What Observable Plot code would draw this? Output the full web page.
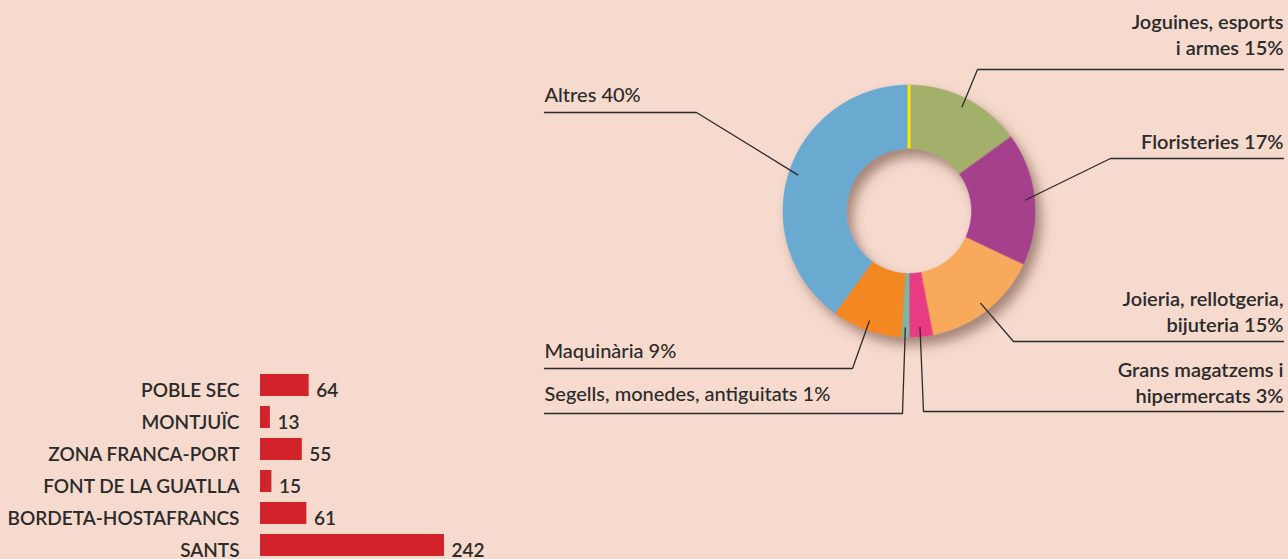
<!DOCTYPE html>
<html><head><meta charset="utf-8">
<script src="https://cdn.jsdelivr.net/npm/d3@7"></script>
<script src="https://cdn.jsdelivr.net/npm/@observablehq/plot@0.6"></script>
<style>
html,body{margin:0;padding:0;background:#f6dacd;}
#wrap{position:relative;width:1288px;height:559px;overflow:hidden;background:#f6dacd;font-family:Lato,sans-serif;}
#wrap svg{position:absolute;left:0;top:0;}
</style></head><body><div id="wrap"></div>
<script>
// ---- data ----
const sectors = ["Joguines, esports i armes","Floristeries","Joieria, rellotgeria, bijuteria","Grans magatzems i hipermercats","Segells, monedes, antiguitats","Maquinària","Altres"];
const shares = [15,17,15,3,1,9,40];
const sectorLabels = ["Joguines, esports\ni armes 15%","Floristeries 17%","Joieria, rellotgeria,\nbijuteria 15%","Grans magatzems i\nhipermercats 3%","Segells, monedes, antiguitats 1%","Maquinària 9%","Altres 40%"];
const sliceColors = ["#a3b06c","#a6418d","#f8a95b","#e93a83","#80b5a1","#f38722","#6aa9d0"];

const districts = ["POBLE SEC","MONTJUÏC","ZONA FRANCA-PORT","FONT DE LA GUATLLA","BORDETA-HOSTAFRANCS","SANTS"];
const establishments = [64,13,55,15,61,242];

// ---- layout (pixels) ----
const W = 1288, H = 559, CX = 908.5, CY = 210.5, R_OUT = 126, R_IN = 62.5, R_ANCHOR = 117;
const labelSide = ["right","right","right","right","left","left","left"];
const labelRuleY = [69,158,341,411,413,368,112];
const labelGap = [-14.5,-10,-10,-9,-13,-11,-11];
const labelElbowX = [977,1110,1013,923,902,852,696];
const RIGHT_X = 1283, LEFT_X = 544;
const INK = "#2b2b2b";

const total = d3.sum(shares);
let acc = 0;
const slices = sectors.map((s, i) => {
  const a0 = acc / total * 2 * Math.PI; acc += shares[i];
  const a1 = acc / total * 2 * Math.PI;
  return {sector: s, a0, a1};
});
const polar = (r, a) => [CX + r * Math.sin(a), CY - r * Math.cos(a)];
const ring = [];
for (const s of slices) {
  const n = Math.max(2, Math.ceil((s.a1 - s.a0) / (Math.PI / 360)));
  for (let k = 0; k <= n; k++) { const [x, y] = polar(R_OUT, s.a0 + (s.a1 - s.a0) * k / n); ring.push({sector: s.sector, x, y}); }
  for (let k = n; k >= 0; k--) { const [x, y] = polar(R_IN, s.a0 + (s.a1 - s.a0) * k / n); ring.push({sector: s.sector, x, y}); }
}
const leaders = [], labelsPos = [];
slices.forEach((s, i) => {
  const [ax, ay] = polar(R_ANCHOR, (s.a0 + s.a1) / 2);
  const endX = labelSide[i] === "right" ? RIGHT_X : LEFT_X;
  leaders.push({sector: s.sector, x: ax, y: ay}, {sector: s.sector, x: labelElbowX[i], y: labelRuleY[i]}, {sector: s.sector, x: endX, y: labelRuleY[i]});
  labelsPos.push({text: sectorLabels[i], x: endX, y: labelRuleY[i] + labelGap[i], side: labelSide[i]});
});
const seam = [{p0: polar(R_IN, slices[0].a0), p1: polar(R_OUT, slices[0].a0)}];

const wrap = document.getElementById("wrap");

const donut = Plot.plot({
  width: W, height: H, margin: 0,
  x: {domain: [0, W], range: [0, W], axis: null},
  y: {domain: [0, H], range: [0, H], axis: null},
  color: {domain: sectors, range: sliceColors},
  style: {background: "transparent", fontFamily: "Lato, sans-serif", color: INK, overflow: "visible"},
  marks: [
    Plot.line(ring, {x: "x", y: "y", z: "sector", fill: "sector", stroke: "sector", strokeWidth: 0.6, curve: "linear-closed"}),
    Plot.link(seam, {x1: d => d.p0[0], y1: d => d.p0[1], x2: d => d.p1[0], y2: d => d.p1[1], stroke: "#ffe500", strokeWidth: 3}),
    Plot.line(leaders, {x: "x", y: "y", z: "sector", stroke: INK, strokeWidth: 1.3}),
    Plot.text(labelsPos.filter(d => d.side === "right"), {x: "x", y: "y", text: "text", textAnchor: "end", lineAnchor: "bottom", lineHeight: 1.3, fontSize: 20, fontWeight: 600, fill: INK}),
    Plot.text(labelsPos.filter(d => d.side === "left"), {x: "x", y: "y", text: "text", textAnchor: "start", lineAnchor: "bottom", lineHeight: 1.3, fontSize: 20, fontWeight: 500, fill: INK})
  ]
});
const sel = d3.select(donut);
const defs = sel.insert("defs", ":first-child");
const f = defs.append("filter").attr("id", "ds").attr("x", "-30%").attr("y", "-30%").attr("width", "160%").attr("height", "160%");
f.append("feDropShadow").attr("dx", 6).attr("dy", 8).attr("stdDeviation", 6).attr("flood-color", "#6e4c42").attr("flood-opacity", 0.6);
sel.select('g[aria-label="line"]').attr("filter", "url(#ds)");
wrap.appendChild(donut);

const barData = districts.map((d, i) => ({district: d, value: establishments[i]}));
const bars = Plot.plot({
  width: 520, height: 199, margin: 0,
  x: {domain: [0, 242], range: [260, 444], axis: null},
  y: {domain: districts, range: [14, 196], paddingInner: 0.3125, paddingOuter: 0, axis: null},
  style: {background: "transparent", fontFamily: "Lato, sans-serif", color: INK, overflow: "visible"},
  marks: [
    Plot.barX(barData, {x: "value", y: "district", fill: "#d2232a"}),
    Plot.text(barData, {x: 0, y: "district", text: "district", textAnchor: "end", dx: -21, lineAnchor: "bottom", dy: 11, fontSize: 19, fontWeight: 600, fill: INK}),
    Plot.text(barData, {x: "value", y: "district", text: d => String(d.value), textAnchor: "start", dx: 7, lineAnchor: "bottom", dy: 11, fontSize: 19, fontWeight: 600, fill: INK})
  ]
});
bars.style.top = "360px";
bars.style.left = "0px";
wrap.appendChild(bars);
</script>
</body></html>
